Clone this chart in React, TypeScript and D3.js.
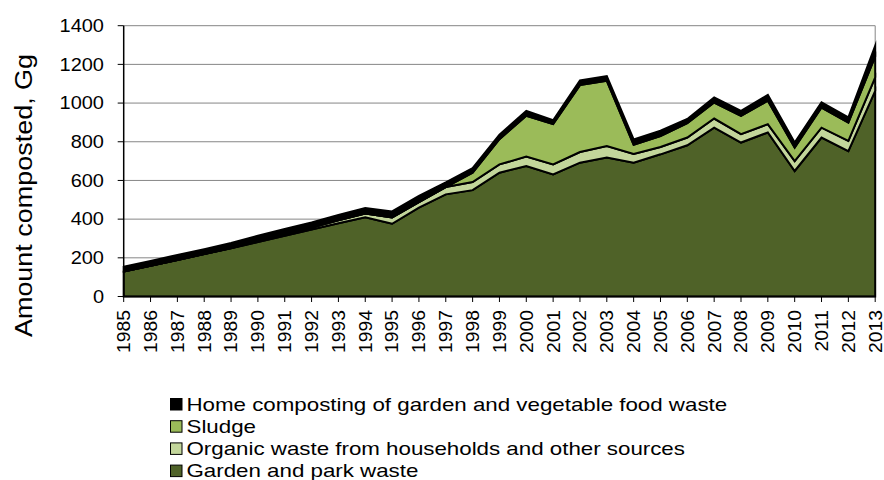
import React from "react";
import * as d3 from "d3";

const years = [
  "1985","1986","1987","1988","1989","1990","1991","1992","1993","1994",
  "1995","1996","1997","1998","1999","2000","2001","2002","2003","2004",
  "2005","2006","2007","2008","2009","2010","2011","2012","2013",
];
const gardenPark = [129,159,189,219,249,282,314,346,379,409,376,459,528,550,640,675,631,692,718,692,735,782,873,796,848,649,822,752,1063];
const organicWaste = [0,0,0,0,2,5,8,10,15,20,32,29,38,42,43,48,52,55,60,45,38,40,47,43,43,51,51,52,70];
const sludge = [0,0,0,0,0,0,0,0,0,0,0,0,0,48,130,211,208,346,337,48,57,74,83,95,121,70,104,95,108];
const homeComposting = [25,25,26,26,26,27,27,27,28,28,32,32,24,24,24,26,20,24,24,27,27,22,26,26,30,26,27,27,55];
const yTicks = [0, 200, 400, 600, 800, 1000, 1200, 1400];
const seriesKeys = ["garden", "organic", "sludge", "home"];
const seriesNames = [
  "Garden and park waste",
  "Organic waste from households and other sources",
  "Sludge",
  "Home composting of garden and vegetable food waste",
];
const seriesColors = ["#4F6228", "#C3D69B", "#9BBB59", "#000000"];
const yTitle = "Amount composted, Gg";

const FONT = "'Liberation Sans', Arial, Helvetica, sans-serif";

export default function App() {
  const W = 884;
  const H = 480;
  const left = 123.7;
  const right = 875.2;
  const top = 25.7;
  const bottom = 296.5;

  const x = d3.scalePoint<string>().domain(years).range([left, right]);
  const y = d3.scaleLinear().domain([0, 1400]).range([bottom, top]);

  const rows = years.map((yr, i) => ({
    year: yr,
    garden: gardenPark[i],
    organic: organicWaste[i],
    sludge: sludge[i],
    home: homeComposting[i],
  }));
  const stacked = d3.stack<any>().keys(seriesKeys)(rows);
  const area = d3
    .area<any>()
    .x((d) => x(d.data.year) as number)
    .y0((d) => y(d[0]))
    .y1((d) => y(d[1]));

  const legendOrder = [3, 2, 1, 0];

  return (
    <svg
      width={W}
      height={H}
      style={{ position: "absolute", left: 0, top: 0, background: "#fff" }}
      fontFamily={FONT}
    >
      {/* gridlines */}
      {yTicks.slice(1).map((t) => (
        <line
          key={"g" + t}
          x1={left}
          x2={right}
          y1={y(t)}
          y2={y(t)}
          stroke="#868686"
          strokeWidth={1}
        />
      ))}
      {/* right plot border */}
      <line x1={right} x2={right} y1={top} y2={bottom} stroke="#868686" strokeWidth={1} />

      {/* areas */}
      {stacked.map((s, i) => (
        <path
          key={seriesKeys[i]}
          d={area(s as any) || ""}
          fill={seriesColors[i]}
          stroke="#000"
          strokeWidth={2}
          strokeLinejoin="miter"
          strokeMiterlimit={10}
        />
      ))}

      {/* axes */}
      <line x1={left} x2={left} y1={top} y2={bottom} stroke="#000" strokeWidth={1.5} />
      <line x1={left} x2={right} y1={bottom} y2={bottom} stroke="#000" strokeWidth={1.5} />

      {/* y ticks and labels */}
      {yTicks.map((t) => (
        <g key={"yt" + t}>
          <line x1={left - 6} x2={left} y1={y(t)} y2={y(t)} stroke="#000" strokeWidth={1} />
          <text
            transform={`translate(104, ${y(t) + 6.3}) scale(1.13, 1)`}
            textAnchor="end"
            fontSize={17.7}
            fill="#000"
          >
            {t}
          </text>
        </g>
      ))}

      {/* x ticks and labels */}
      {years.map((yr) => {
        const px = x(yr) as number;
        return (
          <g key={"xt" + yr}>
            <line x1={px} x2={px} y1={bottom} y2={bottom + 5.5} stroke="#000" strokeWidth={1} />
            <text
              transform={`translate(${px + 6.4}, 310) rotate(-90) scale(1.09, 1)`}
              textAnchor="end"
              fontSize={17.7}
              fill="#000"
            >
              {yr}
            </text>
          </g>
        );
      })}

      {/* y title */}
      <text
        transform={`translate(32, 195.5) rotate(-90) scale(1.1, 1)`}
        textAnchor="middle"
        fontSize={24.5}
        fill="#000"
      >
        {yTitle}
      </text>

      {/* legend */}
      {legendOrder.map((si, row) => (
        <g key={"lg" + si}>
          <rect
            x={170.5}
            y={398.5 + row * 22.2}
            width={11.5}
            height={11.5}
            fill={seriesColors[si]}
            stroke="#000"
            strokeWidth={1}
          />
          <text
            transform={`translate(186.5, ${410.7 + row * 22.2}) scale(1.2, 1)`}
            fontSize={18.6}
            fill="#000"
          >
            {seriesNames[si]}
          </text>
        </g>
      ))}
    </svg>
  );
}
